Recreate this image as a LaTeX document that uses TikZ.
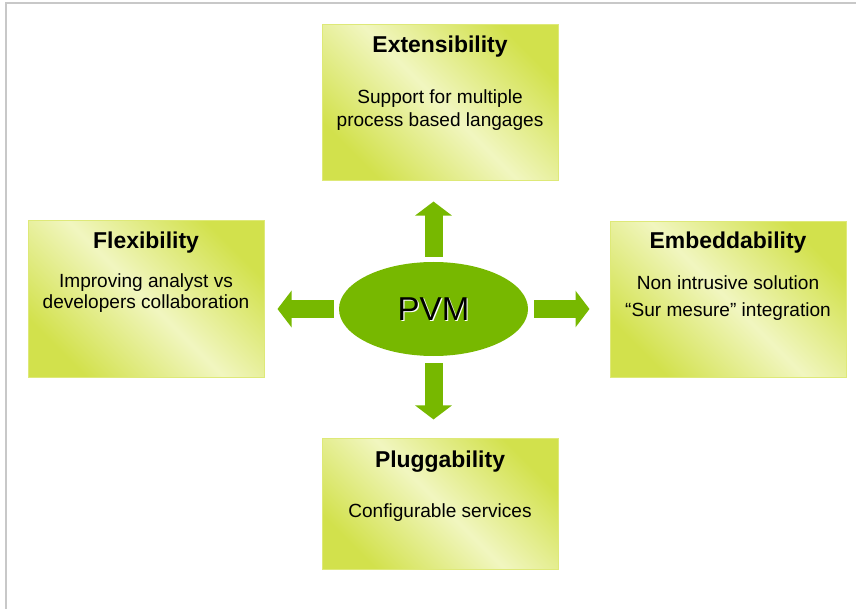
\documentclass[tikz,border=0pt]{standalone}
\usepackage{fontspec}
\setmainfont{Liberation Sans}
\usetikzlibrary{arrows.meta,shapes.geometric}
\definecolor{pvmgreen}{RGB}{119,184,0}
\definecolor{boxdark}{RGB}{210,225,76}
\definecolor{boxlight}{RGB}{241,246,192}
\definecolor{boxline}{RGB}{222,233,120}
\definecolor{framegray}{RGB}{200,200,200}

\begin{document}
\begin{tikzpicture}[x=0.75pt,y=-0.75pt]
    \tikzstyle{box}=[draw=boxline,line width=0.75pt,top color=boxdark,bottom color=boxdark,middle color=boxlight,shading angle=-45,minimum width=177pt,minimum height=117pt,inner sep=0pt]
    \tikzstyle{title}=[anchor=base,inner sep=0pt,font=\fontsize{17.2}{20}\selectfont\bfseries]
    \tikzstyle{body}=[anchor=base,inner sep=0pt,font=\fontsize{14.3}{17}\selectfont]
    \tikzstyle{bigarrow}=[draw=pvmgreen,line width=13.5pt,-{Triangle[length=10.5pt,width=27pt]}]
    \tikzstyle{pvmtext}=[inner sep=0pt,font=\fontsize{24.8}{28}\selectfont]

    \useasboundingbox (0,0) rectangle (856,609);
    \draw[framegray,line width=1.5pt] (6,609) -- (6,3) -- (856,3);

    \node[box] (ext) at (440,102.5) {};
    \node[title] (exttitle) at (440,53) {Extensibility};
    \node[body] (extline1) at (440,104) {Support for multiple};
    \node[body] (extline2) at (440,127) {process based langages};

    \node[box] (flex) at (146,299) {};
    \node[title] (flextitle) at (146,249) {Flexibility};
    \node[body] (flexline1) at (146,288) {Improving analyst vs};
    \node[body] (flexline2) at (146,309) {developers collaboration};

    \node[box] (emb) at (728,299.5) {};
    \node[title] (embtitle) at (728,249) {Embeddability};
    \node[body] (embline1) at (728,290) {Non intrusive solution};
    \node[body] (embline2) at (728,317) {“Sur mesure” integration};

    \node[box,minimum height=98.25pt] (plug) at (440,504) {};
    \node[title] (plugtitle) at (440,467) {Pluggability};
    \node[body] (plugline1) at (440,517) {Configurable services};

    \node[ellipse,fill=pvmgreen,minimum width=141.75pt,minimum height=70.5pt,inner sep=0pt] (pvm) at (433.5,309) {};
    \node[pvmtext,white] (pvmshadow) at ([shift={(1.2,1.2)}]pvm.center) {PVM};
    \node[pvmtext] (pvmlabel) at (pvm.center) {PVM};

    \draw[bigarrow,shorten <=3.75pt,shorten >=15.4pt] (pvm.north) -- (pvm.north |- ext.south);
    \draw[bigarrow,shorten <=5.25pt,shorten >=13.9pt] (pvm.south) -- (pvm.south |- plug.north);
    \draw[bigarrow,shorten <=3.75pt,shorten >=9.75pt] (pvm.west) -- (pvm.west -| flex.east);
    \draw[bigarrow,shorten <=4.5pt,shorten >=15pt] (pvm.east) -- (pvm.east -| emb.west);
\end{tikzpicture}
\end{document}
